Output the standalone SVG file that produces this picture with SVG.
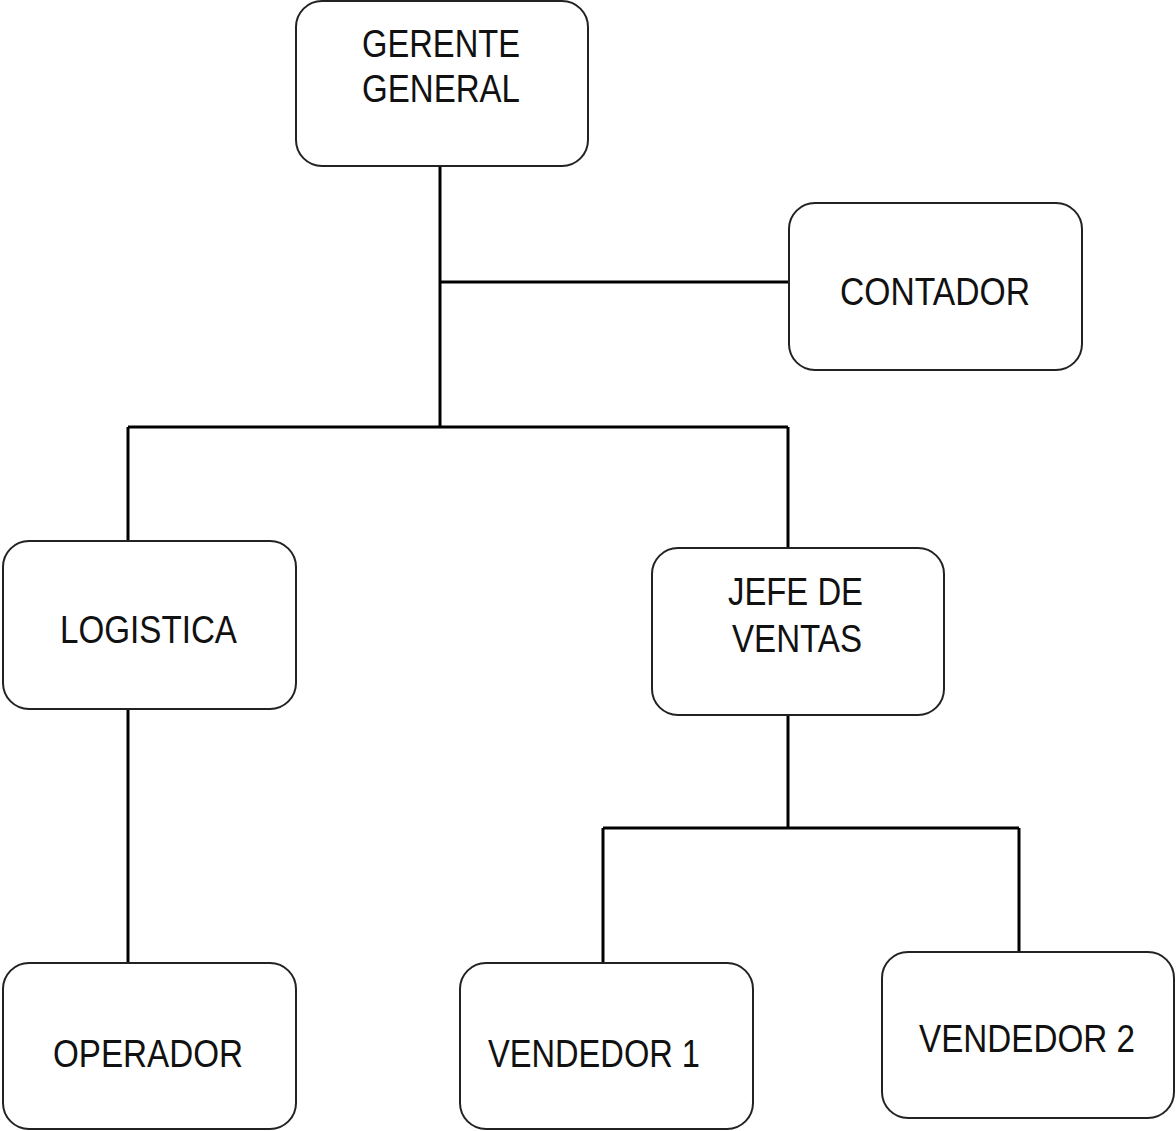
<svg xmlns="http://www.w3.org/2000/svg" width="1176" height="1131" viewBox="0 0 1176 1131">
<style>
.box{fill:#fff;stroke:#222;stroke-width:2}
.t{font-family:"Liberation Sans",Arial,sans-serif;font-size:39px;fill:#111}
.c{stroke:#000;stroke-width:3;fill:none}
</style>
<rect width="1176" height="1131" fill="#fff"/>
<g id="connectors">
<path class="c" d="M440 166V427M440 282H788M128 427H788M128 427V541M788 427V548M128 710V963M788 716V828M603 828H1019M603 828V963M1019 828V952"/>
</g>
<g id="gerente"><rect class="box" x="296" y="1" width="292" height="165" rx="26"/>
<text class="t" x="362" y="57" textLength="158" lengthAdjust="spacingAndGlyphs">GERENTE</text>
<text class="t" x="362" y="102" textLength="158" lengthAdjust="spacingAndGlyphs">GENERAL</text></g>
<g id="contador"><rect class="box" x="789" y="203" width="293" height="167" rx="26"/>
<text class="t" x="840" y="305" textLength="190" lengthAdjust="spacingAndGlyphs">CONTADOR</text></g>
<g id="logistica"><rect class="box" x="3" y="541" width="293" height="168" rx="26"/>
<text class="t" x="60" y="643" textLength="177" lengthAdjust="spacingAndGlyphs">LOGISTICA</text></g>
<g id="jefe"><rect class="box" x="652" y="548" width="292" height="167" rx="26"/>
<text class="t" x="728" y="605" textLength="135" lengthAdjust="spacingAndGlyphs">JEFE DE</text>
<text class="t" x="732" y="652" textLength="130" lengthAdjust="spacingAndGlyphs">VENTAS</text></g>
<g id="operador"><rect class="box" x="3" y="963" width="293" height="166" rx="26"/>
<text class="t" x="53" y="1067" textLength="190" lengthAdjust="spacingAndGlyphs">OPERADOR</text></g>
<g id="vendedor1"><rect class="box" x="460" y="963" width="293" height="166" rx="26"/>
<text class="t" x="488" y="1067" textLength="212" lengthAdjust="spacingAndGlyphs">VENDEDOR 1</text></g>
<g id="vendedor2"><rect class="box" x="882" y="952" width="292" height="166" rx="26"/>
<text class="t" x="919" y="1052" textLength="216" lengthAdjust="spacingAndGlyphs">VENDEDOR 2</text></g>
</svg>
